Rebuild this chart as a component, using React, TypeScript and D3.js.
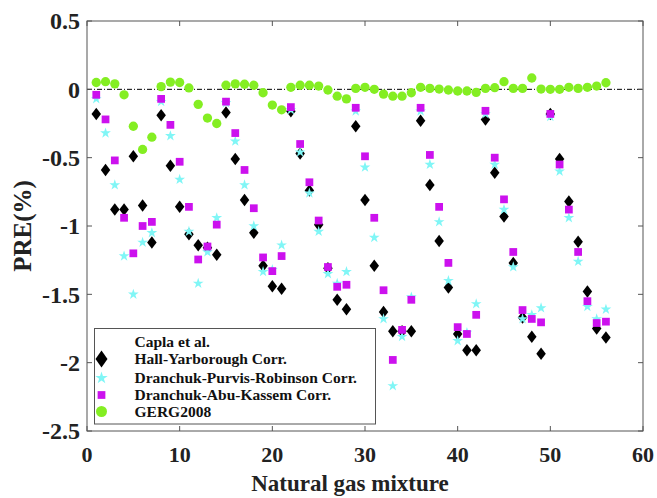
import React from 'react';
import * as d3 from 'd3';

// PRE (%) per natural gas mixture (mixtures 1..56)
const mixtures = d3.range(1, 57);

const hallYarborough = [
  -0.18, -0.59, -0.88, -0.88, -0.49, -0.85, -1.12, -0.19, -0.56, -0.86,
  -1.06, -1.14, -1.16, -1.21, -0.17, -0.51, -0.81, -1.05, -1.29, -1.44,
  -1.46, -0.16, -0.47, -0.74, -0.99, -1.31, -1.54, -1.61, -0.27, -0.81,
  -1.29, -1.63, -1.77, -1.77, -1.77, -0.23, -0.70, -1.11, -1.45, -1.79,
  -1.91, -1.91, -0.22, -0.61, -0.93, -1.27, -1.67, -1.81, -1.935, -0.18,
  -0.51, -0.82, -1.115, -1.48, -1.75, -1.815,
];

const dranchukPurvis = [
  -0.07, -0.32, -0.70, -1.22, -1.50, -1.12, -1.05, -0.09, -0.34, -0.66,
  -1.04, -1.42, -1.19, -0.94, -0.10, -0.38, -0.70, -1.00, -1.335, -1.32,
  -1.14, -0.15, -0.46, -0.76, -1.04, -1.35, -1.42, -1.335, -0.16, -0.57,
  -1.085, -1.68, -2.17, -1.81, -1.52, -0.16, -0.55, -0.97, -1.40, -1.84,
  -1.78, -1.57, -0.18, -0.55, -0.88, -1.30, -1.68, -1.65, -1.60, -0.20,
  -0.60, -0.94, -1.26, -1.59, -1.68, -1.61,
];

const dranchukAbu = [
  -0.04, -0.22, -0.52, -0.94, -1.20, -1.00, -0.97, -0.07, -0.26, -0.53,
  -0.86, -1.245, -1.15, -0.99, -0.09, -0.32, -0.59, -0.87, -1.23, -1.33,
  -1.22, -0.13, -0.40, -0.68, -0.96, -1.30, -1.445, -1.43, -0.135, -0.49,
  -0.94, -1.47, -1.98, -1.76, -1.54, -0.135, -0.48, -0.86, -1.27, -1.74,
  -1.79, -1.65, -0.157, -0.50, -0.805, -1.19, -1.615, -1.68, -1.705, -0.18,
  -0.55, -0.88, -1.19, -1.55, -1.71, -1.70,
];

const gerg2008 = [
  0.05, 0.056, 0.04, -0.04, -0.27, -0.44, -0.35, 0.02, 0.053, 0.05,
  0.01, -0.11, -0.21, -0.25, 0.03, 0.04, 0.037, 0.03, -0.025, -0.115,
  -0.15, 0.015, 0.03, 0.03, 0.024, -0.005, -0.05, -0.07, 0.007, 0.015,
  0, -0.035, -0.05, -0.05, -0.025, 0.015, 0.007, 0.002, -0.005, -0.012,
  -0.012, -0.022, 0.007, 0.012, 0.056, 0.007, 0.007, 0.083, 0.002, 0,
  0, 0.015, 0.007, 0.015, 0.024, 0.048,
];

const xTicks = [0, 10, 20, 30, 40, 50, 60];
const yTicks = [0.5, 0, -0.5, -1, -1.5, -2, -2.5];
const legendTitle = 'Capla et al.';

const W = 657;
const H = 498;
const margin = { top: 21, right: 14, bottom: 67, left: 87 };
const FONT = '"Liberation Serif", "Times New Roman", serif';
const FRAME = '#555';

// marker shapes
const diamond = (w: number, h: number) => {
  const p = d3.path();
  p.moveTo(0, -h / 2);
  p.lineTo(w / 2, 0);
  p.lineTo(0, h / 2);
  p.lineTo(-w / 2, 0);
  p.closePath();
  return p.toString();
};
const star = d3.symbol(d3.symbolStar, 36)() as string;
const square = d3.symbol(d3.symbolSquare, 60)() as string;
const circle = d3.symbol(d3.symbolCircle, 68)() as string;

const series = [
  { name: 'Hall-Yarborough Corr.', values: hallYarborough, path: diamond(9.5, 12.5), legendPath: diamond(12, 17), color: '#000000' },
  { name: 'Dranchuk-Purvis-Robinson Corr.', values: dranchukPurvis, path: star, legendPath: d3.symbol(d3.symbolStar, 48)() as string, color: '#80f6f6' },
  { name: 'Dranchuk-Abu-Kassem Corr.', values: dranchukAbu, path: square, legendPath: square, color: '#cc11ee' },
  { name: 'GERG2008', values: gerg2008, path: circle, legendPath: d3.symbol(d3.symbolCircle, 95)() as string, color: '#84ee22' },
];

export default function App() {
  const x = d3.scaleLinear().domain([0, 60]).range([margin.left, W - margin.right]);
  const y = d3.scaleLinear().domain([-2.5, 0.5]).range([H - margin.bottom, margin.top]);
  const [x0, x1] = x.range();
  const [yb, yt] = y.range();

  const legend = { x: 94.5, y: 328.5, w: 281, h: 95.5 };
  const rowY = [341.5, 359, 378, 395, 411.5];

  return (
    <svg width={W} height={H} style={{ position: 'absolute', left: 0, top: 0, background: '#fff' }}>
      <rect x={0} y={0} width={W} height={H} fill="#fff" />

      {/* zero reference line */}
      <line x1={x0} x2={x1} y1={y(0)} y2={y(0)} stroke="#000" strokeWidth={1} strokeDasharray="5,2,1,2" />

      {/* ticks (inward, all four sides) */}
      {xTicks.map((t) => (
        <g key={'xt' + t}>
          <line x1={x(t)} x2={x(t)} y1={yb} y2={yb - 5} stroke={FRAME} />
          <line x1={x(t)} x2={x(t)} y1={yt} y2={yt + 5} stroke={FRAME} />
          <text x={x(t)} y={yb + 31} textAnchor="middle" fontFamily={FONT} fontWeight="bold" fontSize={22} fill="#222">
            {t}
          </text>
        </g>
      ))}
      {yTicks.map((t) => (
        <g key={'yt' + t}>
          <line x1={x0} x2={x0 + 5} y1={y(t)} y2={y(t)} stroke={FRAME} />
          <line x1={x1} x2={x1 - 5} y1={y(t)} y2={y(t)} stroke={FRAME} />
          <text x={x0 - 7} y={y(t)} dy="0.35em" textAnchor="end" fontFamily={FONT} fontWeight="bold" fontSize={24} fill="#222">
            {t}
          </text>
        </g>
      ))}

      {/* data */}
      {series.map((s) => (
        <g key={s.name}>
          {s.values.map((v, i) => (
            <path key={i} d={s.path} transform={`translate(${x(mixtures[i])},${y(v)})`} fill={s.color} />
          ))}
        </g>
      ))}

      {/* frame */}
      <rect x={x0} y={yt} width={x1 - x0} height={yb - yt} fill="none" stroke={FRAME} strokeWidth={1} />

      {/* legend */}
      <rect x={legend.x} y={legend.y} width={legend.w} height={legend.h} fill="#fff" stroke={FRAME} strokeWidth={1} />
      <text x={134.5} y={rowY[0]} dy="0.35em" fontFamily={FONT} fontWeight="bold" fontSize={15.5} fill="#111">
        {legendTitle}
      </text>
      {series.map((s, i) => (
        <g key={'lg' + s.name} transform={`translate(0,${rowY[i + 1]})`}>
          <path d={s.legendPath} transform="translate(101.5,0)" fill={s.color} />
          <text x={134.5} dy="0.35em" fontFamily={FONT} fontWeight="bold" fontSize={15.5} fill="#111">
            {s.name}
          </text>
        </g>
      ))}

      {/* axis titles */}
      <text x={350} y={491} textAnchor="middle" fontFamily={FONT} fontWeight="bold" fontSize={23} fill="#222">
        Natural gas mixture
      </text>
      <text transform={`translate(31,${(yb + yt) / 2}) rotate(-90)`} textAnchor="middle" fontFamily={FONT} fontWeight="bold" fontSize={25} fill="#222">
        PRE(%)
      </text>
    </svg>
  );
}
